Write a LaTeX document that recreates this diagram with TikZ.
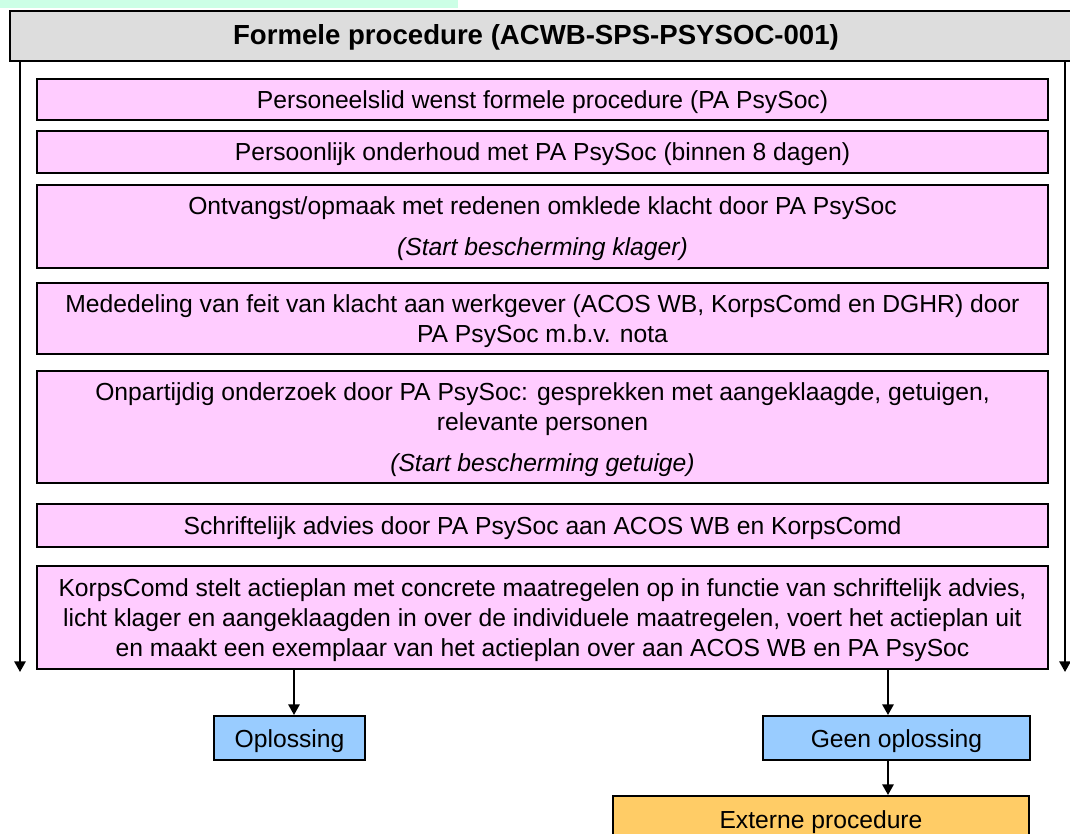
\documentclass[tikz,border=0pt]{standalone}
\usepackage{fontspec}
\setmainfont{Liberation Sans}
\usetikzlibrary{arrows.meta}
\definecolor{pinkfill}{HTML}{FFCCFF}
\definecolor{bluefill}{HTML}{99CCFF}
\definecolor{orangefill}{HTML}{FFCC66}
\definecolor{grayfill}{HTML}{DDDDDD}
\definecolor{mint}{HTML}{CCFFE6}
\newcommand{\lowtx}[1]{\raisebox{-2.25pt}[\height][\depth]{\begin{tabular}{@{}c@{}}#1\end{tabular}}}
\begin{document}
\begin{tikzpicture}[x=0.75pt,y=-0.75pt,
  every node/.style={font=\fontsize{18.5}{22.5}\selectfont},
  base/.style={draw=black,line width=1.5pt,inner sep=0pt,align=center},
  pinkbox/.style={base,fill=pinkfill,minimum width=758.25pt},
  bluebox/.style={base,fill=bluefill,minimum height=33pt},
  arr/.style={line width=1.5pt,-{Triangle[length=8pt,width=8.5pt]}}]
\useasboundingbox (0,0) rectangle (1070,834);
\fill[mint] (0,0) rectangle (458,8);
% header
\node[base,fill=grayfill,minimum width=802.5pt,minimum height=37.5pt] (header) at (545,36) {};
\node[font=\fontsize{20.7}{24}\selectfont\bfseries] (title) at (536,37) {Formele procedure (ACWB-SPS-PSYSOC-001)};
% steps
\node[pinkbox,minimum height=30.75pt] (b1) at (542.5,99.5) {\lowtx{Personeelslid wenst formele procedure (PA PsySoc)}};
\node[pinkbox,minimum height=31.5pt] (b2) at (542.5,152) {\lowtx{Persoonlijk onderhoud met PA PsySoc (binnen 8 dagen)}};
\node[pinkbox,minimum height=62.25pt] (b3) at (542.5,226.5) {\lowtx{Ontvangst/opmaak met redenen omklede klacht door PA PsySoc\\[8.25pt]\textit{(Start bescherming klager)}}};
\node[pinkbox,minimum height=53.25pt] (b4) at (542.5,318.5) {\lowtx{Mededeling van feit van klacht aan werkgever (ACOS WB, KorpsComd en DGHR) door\\PA PsySoc m.b.v. nota}};
\node[pinkbox,minimum height=84pt] (b5) at (542.5,427) {\lowtx{Onpartijdig onderzoek door PA PsySoc: gesprekken met aangeklaagde, getuigen,\\relevante personen\\[8.25pt]\textit{(Start bescherming getuige)}}};
\node[pinkbox,minimum height=32.25pt] (b6) at (542.5,525.5) {\lowtx{Schriftelijk advies door PA PsySoc aan ACOS WB en KorpsComd}};
\node[pinkbox,minimum height=77.25pt] (b7) at (542.5,617.5) {\lowtx{KorpsComd stelt actieplan met concrete maatregelen op in functie van schriftelijk advies,\\licht klager en aangeklaagden in over de individuele maatregelen, voert het actieplan uit\\en maakt een exemplaar van het actieplan over aan ACOS WB en PA PsySoc}};
% outcomes
\node[bluebox,minimum width=113.25pt] (opl) at (289.5,738) {\lowtx{Oplossing}};
\node[bluebox,minimum width=200.25pt] (geen) at (896.5,738) {\lowtx{Geen oplossing}};
\node[base,fill=orangefill,minimum width=312pt,minimum height=34.5pt] (ext) at (821,819) {\lowtx{Externe procedure}};
% connectors
\coordinate (lt) at (20,672);
\coordinate (rt) at (1065,672);
\coordinate (c1) at (294,0);
\coordinate (c2) at (888,0);
\draw[arr] (header.south -| lt) -- (lt);
\draw[arr] (header.south -| rt) -- (rt);
\draw[arr] (b7.south -| c1) -- (opl.north -| c1);
\draw[arr] (b7.south -| c2) -- (geen.north -| c2);
\draw[arr] (geen.south -| c2) -- (ext.north -| c2);
\end{tikzpicture}
\end{document}
